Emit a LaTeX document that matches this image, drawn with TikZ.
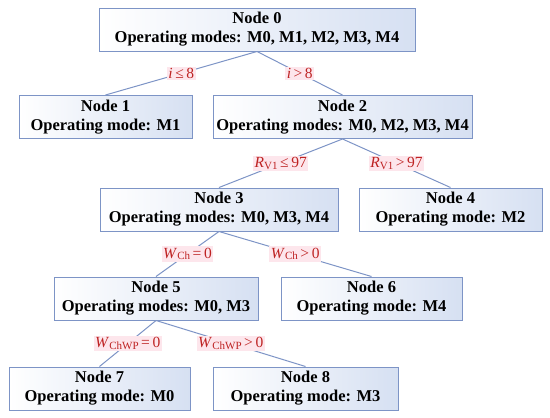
\documentclass[tikz,border=0pt]{standalone}
\usepackage{fontspec}
\setmainfont{Liberation Serif}
\definecolor{boxc}{RGB}{125,148,198}
\definecolor{boxf}{RGB}{214,224,242}
\definecolor{linec}{RGB}{125,148,198}
\definecolor{condbg}{RGB}{253,230,236}
\definecolor{condtx}{RGB}{190,35,35}
\newcommand{\sbx}[1]{\raisebox{-0.25ex}{\fontsize{11}{11}\selectfont #1}}
\begin{document}
\begin{tikzpicture}[x=1pt,y=-1pt,
  box/.style={draw=boxc, line width=1pt, shading=axis, left color=white, right color=boxf,
    font=\bfseries\fontsize{16.5}{19}\selectfont, align=center, inner sep=0pt, minimum height=43pt},
  cond/.style={fill=condbg, text=condtx, font=\fontsize{15.5}{17}\selectfont, inner sep=1.5pt},
  link/.style={draw=linec, line width=1pt}]
\useasboundingbox (0,0) rectangle (550,418);
\node[box, minimum width=316pt] (n0) at (257,29.5) {Node 0\\Operating modes: M0, M1, M2, M3, M4};
\node[box, minimum width=173pt] (n1) at (105.5,117) {Node 1\\Operating mode: M1};
\node[box, minimum width=259pt] (n2) at (342.5,117) {Node 2\\Operating modes: M0, M2, M3, M4};
\node[box, minimum width=238pt] (n3) at (219,209.5) {Node 3\\Operating modes: M0, M3, M4};
\node[box, minimum width=183pt] (n4) at (450.5,209.5) {Node 4\\Operating mode: M2};
\node[box, minimum width=204pt] (n5) at (156,298.5) {Node 5\\Operating modes: M0, M3};
\node[box, minimum width=181pt] (n6) at (371.5,298.5) {Node 6\\Operating mode: M4};
\node[box, minimum width=181pt] (n7) at (99.5,388.5) {Node 7\\Operating mode: M0};
\node[box, minimum width=185pt] (n8) at (305.5,388.5) {Node 8\\Operating mode: M3};
\draw[link] (n0.south) -- node[cond]{\textit{i}\,≤\,8} (n1.north);
\draw[link] (n0.south) -- node[cond]{\textit{i}\,>\,8} (n2.north);
\draw[link] (n2.south) -- node[cond]{\textit{R}\sbx{V1}\,≤\,97} (n3.north);
\draw[link] (n2.south) -- node[cond]{\textit{R}\sbx{V1}\,>\,97} (n4.north);
\draw[link] (n3.south) -- node[cond]{\textit{W}\sbx{Ch}\,=\,0} (n5.north);
\draw[link] (n3.south) -- node[cond]{\textit{W}\sbx{Ch}\,>\,0} (n6.north);
\draw[link] (n5.south) -- node[cond]{\textit{W}\sbx{ChWP}\,=\,0} (n7.north);
\draw[link] (n5.south) -- node[cond]{\textit{W}\sbx{ChWP}\,>\,0} (n8.north);
\end{tikzpicture}
\end{document}
